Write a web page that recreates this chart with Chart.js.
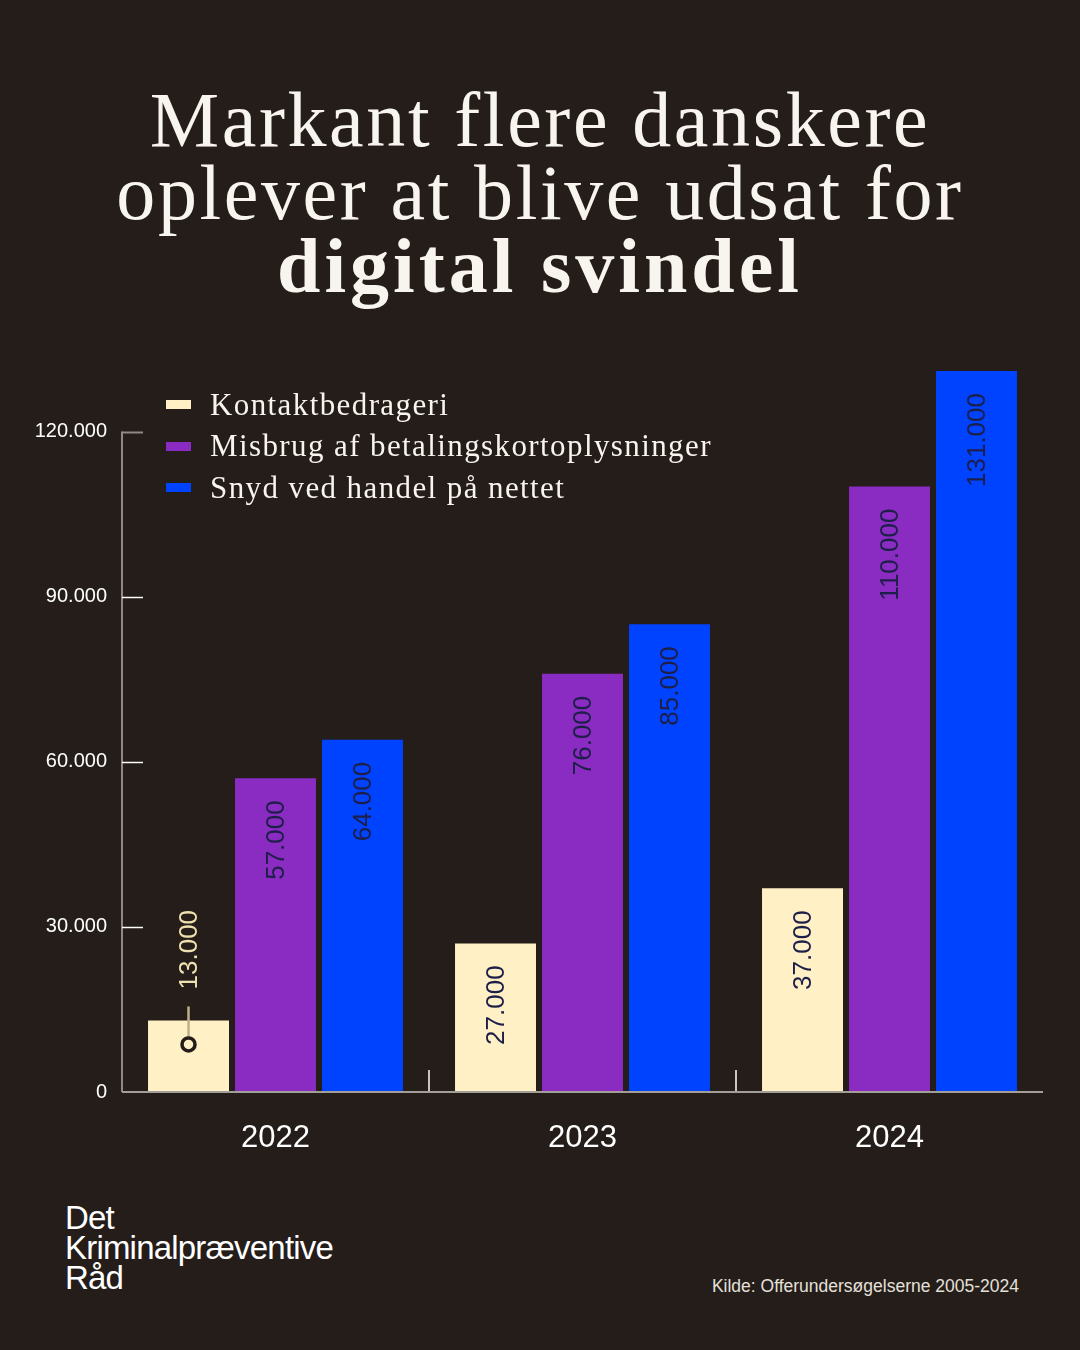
<!DOCTYPE html>
<html lang="da">
<head>
<meta charset="utf-8">
<script src="https://cdn.jsdelivr.net/npm/chart.js@4"></script>
<style>
  html, body { margin: 0; padding: 0; }
  body { width: 1080px; height: 1350px; background: #251d19; position: relative; overflow: hidden; color: #f8f5ee; }
  .title { position: absolute; top: 83px; left: 0; width: 1080px; text-align: center; font-family: "Liberation Serif", "DejaVu Serif", serif; font-size: 78px; line-height: 73px; font-weight: 400; letter-spacing: 2.6px; }
  .title b { font-weight: 700; letter-spacing: 4px; }
  .chart-wrap { position: absolute; top: 322px; left: 0; width: 1080px; height: 848px; }
  .legend { position: absolute; top: 384px; left: 166px; font-family: "Liberation Serif", serif; font-size: 31px; letter-spacing: 1.4px; }
  .legend .row { height: 41.5px; display: flex; align-items: center; }
  .legend .sw { width: 25px; height: 9px; margin-right: 19px; }
  .logo { position: absolute; left: 65px; top: 1203px; font-family: "Liberation Sans", Arial, sans-serif; font-size: 33px; line-height: 30px; letter-spacing: -0.8px; color: #fff; }
  .source { position: absolute; right: 61px; top: 1276px; font-family: "Liberation Sans", Arial, sans-serif; font-size: 17.5px; color: #e4e0da; }
</style>
</head>
<body>
<div class="title">Markant flere danskere<br>oplever at blive udsat for<br><b>digital svindel</b></div>
<div class="chart-wrap"><canvas id="chart" width="1080" height="848"></canvas></div>
<div class="legend" id="legend"></div>
<div class="logo">Det<br>Kriminalpræventive<br>Råd</div>
<div class="source">Kilde: Offerundersøgelserne 2005-2024</div>

<script>
// Data
const years = ['2022', '2023', '2024'];
const seriesNames = ['Kontaktbedrageri', 'Misbrug af betalingskortoplysninger', 'Snyd ved handel på nettet'];
const kontakt = [13000, 27000, 37000];
const misbrug = [57000, 76000, 110000];
const snyd    = [64000, 85000, 131000];
const yTicks  = [0, 30000, 60000, 90000, 120000];

const colors = ['#fff0c6', '#8a2bc2', '#0043ff'];

// Danish thousands separator
function fmt(n) {
  return String(n).replace(/\B(?=(\d{3})+(?!\d))/g, '.');
}

// HTML legend
document.getElementById('legend').innerHTML = seriesNames.map((s, i) =>
  `<div class="row"><span class="sw" style="background:${colors[i]}"></span>${s}</div>`).join('');

// axis line, small ticks and category separators
const axisPlugin = {
  id: 'axisDeco',
  afterDatasetsDraw(chart) {
    const { ctx, chartArea } = chart;
    const y = chart.scales.y, x = chart.scales.x;
    ctx.save();
    // y axis line
    ctx.strokeStyle = '#8f8a85';
    ctx.lineWidth = 2;
    ctx.beginPath();
    ctx.moveTo(chartArea.left, y.getPixelForValue(0));
    ctx.lineTo(chartArea.left, y.getPixelForValue(yTicks[yTicks.length - 1]));
    ctx.stroke();
    // tick marks
    yTicks.forEach((v, i) => {
      if (v === 0) return;
      const py = Math.round(y.getPixelForValue(v)) + 0.5;
      ctx.strokeStyle = i === yTicks.length - 1 ? '#8f8a85' : '#ffffff';
      ctx.lineWidth = i === yTicks.length - 1 ? 2 : 1.5;
      ctx.beginPath();
      ctx.moveTo(chartArea.left, py);
      ctx.lineTo(chartArea.left + 21, py);
      ctx.stroke();
    });
    // category separators
    ctx.strokeStyle = '#ffffff';
    ctx.lineWidth = 1.5;
    for (let i = 0; i < years.length - 1; i++) {
      const px = (x.getPixelForValue(i) + x.getPixelForValue(i + 1)) / 2;
      ctx.beginPath();
      ctx.moveTo(px, chartArea.bottom - 22);
      ctx.lineTo(px, chartArea.bottom);
      ctx.stroke();
    }
    // x axis line
    ctx.strokeStyle = '#a39e98';
    ctx.lineWidth = 2;
    ctx.beginPath();
    ctx.moveTo(chartArea.left, chartArea.bottom);
    ctx.lineTo(chartArea.right, chartArea.bottom);
    ctx.stroke();
    ctx.restore();
  }
};

// rotated value labels
const labelPlugin = {
  id: 'valueLabels',
  afterDatasetsDraw(chart) {
    const ctx = chart.ctx;
    ctx.save();
    ctx.font = '26px "Liberation Sans", Arial, sans-serif';
    ctx.textBaseline = 'middle';
    chart.data.datasets.forEach((ds, i) => {
      chart.getDatasetMeta(i).data.forEach((bar, j) => {
        const txt = fmt(ds.data[j]);
        const w = ctx.measureText(txt).width;
        const h = bar.base - bar.y;
        if (h > w + 40) {
          ctx.save();
          ctx.translate(bar.x + 1, bar.y + 22);
          ctx.rotate(-Math.PI / 2);
          ctx.fillStyle = '#1d1f48';
          ctx.textAlign = 'right';
          ctx.fillText(txt, 0, 0);
          ctx.restore();
        } else {
          // label above with a pin
          ctx.save();
          ctx.translate(bar.x + 1, bar.y - 31);
          ctx.rotate(-Math.PI / 2);
          ctx.fillStyle = '#efe0b0';
          ctx.textAlign = 'left';
          ctx.fillText(txt, 0, 0);
          ctx.restore();
          ctx.strokeStyle = '#bfb08a';
          ctx.lineWidth = 2.5;
          ctx.beginPath();
          ctx.moveTo(bar.x, bar.y - 14);
          ctx.lineTo(bar.x, bar.y + 17);
          ctx.stroke();
          ctx.strokeStyle = '#251d19';
          ctx.lineWidth = 3.5;
          ctx.beginPath();
          ctx.arc(bar.x, bar.y + 24, 6.5, 0, Math.PI * 2);
          ctx.stroke();
        }
      });
    });
    ctx.restore();
  }
};

new Chart(document.getElementById('chart'), {
  type: 'bar',
  data: {
    labels: years,
    datasets: [
      { label: seriesNames[0], data: kontakt, backgroundColor: colors[0] },
      { label: seriesNames[1], data: misbrug, backgroundColor: colors[1] },
      { label: seriesNames[2], data: snyd,    backgroundColor: colors[2] }
    ]
  },
  options: {
    responsive: false,
    animation: false,
    layout: { padding: { top: 8, right: 37, left: 0, bottom: 0 } },
    datasets: { bar: { categoryPercentage: 0.85, barPercentage: 0.931 } },
    plugins: { legend: { display: false }, tooltip: { enabled: false } },
    scales: {
      x: {
        grid: { display: false, drawTicks: false },
        border: { display: false },
        ticks: { color: '#ffffff', padding: 28, font: { family: '"Liberation Sans", Arial, sans-serif', size: 31 } },
        afterFit: s => { s.height = 78; }
      },
      y: {
        min: 0,
        max: 135000,
        grid: { display: false, drawTicks: false },
        border: { display: false },
        ticks: {
          padding: 15,
          color: '#ffffff',
          font: { family: '"Liberation Sans", Arial, sans-serif', size: 20 },
          callback: v => fmt(v)
        },
        afterBuildTicks: s => { s.ticks = yTicks.map(v => ({ value: v })); },
        afterFit: s => { s.width = 122; }
      }
    }
  },
  plugins: [axisPlugin, labelPlugin]
});
</script>
</body>
</html>
